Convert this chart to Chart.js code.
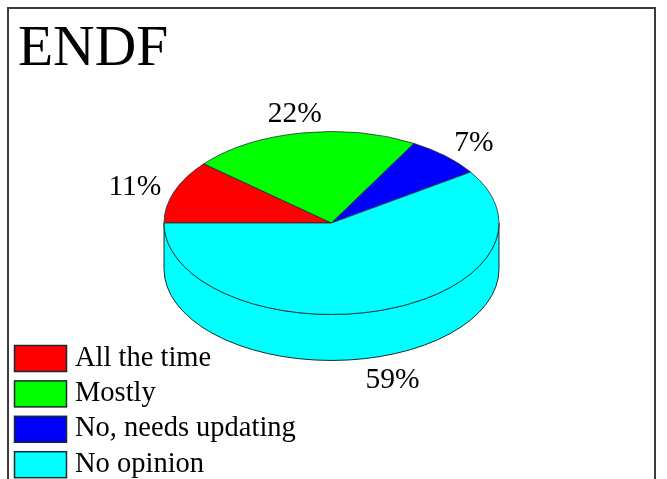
<!DOCTYPE html>
<html>
<head>
<meta charset="utf-8">
<title>ENDF</title>
<script src="https://cdn.jsdelivr.net/npm/chart.js@4"></script>
<style>
  html, body { margin: 0; padding: 0; background: #fff; overflow: hidden; }
  #wrap { position: relative; width: 667px; height: 479px; overflow: hidden; }
  #frame { position: absolute; left: 7px; top: 7px; width: 645px; height: 520px; border: 2px solid #3c3c3c; pointer-events: none; }
  canvas { display: block; }
</style>
</head>
<body>
<div id="wrap">
  <canvas id="pieChart" width="667" height="479"></canvas>
  <div id="frame"></div>
</div>
<script>
const categories = ["All the time", "Mostly", "No, needs updating", "No opinion"];
const percentages = [11.2, 22, 7.4, 59.4];
const sliceColors = ["#ff0000", "#00ff00", "#0000ff", "#00ffff"];

const FONT = '"Liberation Serif", "Times New Roman", serif';
const OUTLINE = "#1a2a2a";
const SQUASH = 0.546; // pie is tilted, so vertical gets squashed
const DEPTH = 46;

// Draws the side wall and squashes the round pie into an ellipse
const tiltPlugin = {
  id: "tilt",
  beforeDatasetsDraw(chart) {
    const ctx = chart.ctx;
    const arcs = chart.getDatasetMeta(0).data;
    const cx = arcs[0].x;
    const cy = arcs[0].y;

    arcs.forEach((arc) => {
      const from = Math.max(arc.startAngle, 0);
      const to = Math.min(arc.endAngle, Math.PI);
      if (to <= from) return;
      const rx = arc.outerRadius;
      const ry = rx * SQUASH;
      ctx.beginPath();
      ctx.ellipse(cx, cy, rx, ry, 0, from, to);
      ctx.ellipse(cx, cy + DEPTH, rx, ry, 0, to, from, true);
      ctx.closePath();
      ctx.fillStyle = arc.options.backgroundColor;
      ctx.fill();
      ctx.strokeStyle = OUTLINE;
      ctx.lineWidth = 1;
      ctx.stroke();
    });

    ctx.save();
    ctx.translate(cx, cy);
    ctx.scale(1, SQUASH);
    ctx.translate(-cx, -cy);
  },
  afterDatasetsDraw(chart) {
    chart.ctx.restore();
  },
  afterDraw(chart) {
    const ctx = chart.ctx;
    ctx.save();
    ctx.fillStyle = "#000";

    // percent labels outside the slices
    ctx.font = "29.5px " + FONT;
    ctx.textAlign = "center";
    ctx.textBaseline = "middle";
    chart.getDatasetMeta(0).data.forEach((arc, i) => {
      const mid = (arc.startAngle + arc.endAngle) / 2;
      const sin = Math.sin(mid);
      const x = arc.x + Math.cos(mid) * arc.outerRadius * 1.25;
      const y = arc.y + sin * arc.outerRadius * SQUASH * 1.24 + (sin > 0 ? DEPTH : 0) + 3;
      ctx.fillText(Math.round(percentages[i]) + "%", x, y);
    });

    // legend sits over the chart in the bottom left corner
    ctx.font = "28.5px " + FONT;
    ctx.textAlign = "left";
    ctx.textBaseline = "alphabetic";
    categories.forEach((name, i) => {
      const top = 345.5 + i * 35.4;
      ctx.fillStyle = sliceColors[i];
      ctx.fillRect(14.5, top, 52, 26);
      ctx.strokeStyle = OUTLINE;
      ctx.lineWidth = 1.5;
      ctx.strokeRect(14.5, top, 52, 26);
      ctx.fillStyle = "#000";
      ctx.fillText(name, 75, top + 20);
    });
    ctx.restore();
  },
};

new Chart(document.getElementById("pieChart"), {
  type: "pie",
  data: {
    labels: categories,
    datasets: [
      {
        data: percentages,
        backgroundColor: sliceColors,
        borderColor: OUTLINE,
        borderWidth: 1,
        radius: 167.5,
      },
    ],
  },
  options: {
    responsive: false,
    animation: false,
    rotation: -90,
    layout: { padding: { left: 18, right: 22, top: 8, bottom: 121 } },
    plugins: {
      legend: { display: false },
      tooltip: { enabled: false },
      title: {
        display: true,
        text: "ENDF",
        align: "start",
        color: "#000",
        font: { family: FONT, size: 57.5, weight: "normal" },
        padding: { top: 7, bottom: 4 },
      },
    },
  },
  plugins: [tiltPlugin],
});
</script>
</body>
</html>
